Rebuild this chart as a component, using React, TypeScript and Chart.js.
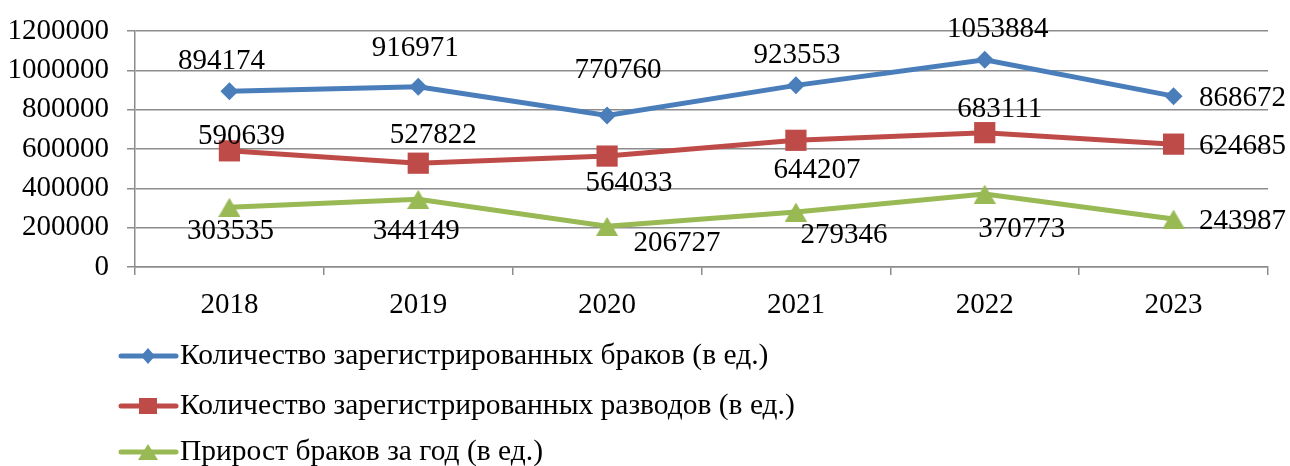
import React, { useEffect, useRef } from "react";
import { Chart, registerables } from "chart.js";

Chart.register(...registerables);

// ---- data ----
const years = ["2018", "2019", "2020", "2021", "2022", "2023"];
const marriages = [894174, 916971, 770760, 923553, 1053884, 868672];
const divorces = [590639, 527822, 564033, 644207, 683111, 624685];
const growth = [303535, 344149, 206727, 279346, 370773, 243987];
const seriesNames = [
  "Количество зарегистрированных браков (в ед.)",
  "Количество зарегистрированных разводов (в ед.)",
  "Прирост браков за год (в ед.)",
];
const yMin = 0;
const yMax = 1200000;
const yStep = 200000;

// ---- styles ----
const FONT = '"Liberation Serif", "Times New Roman", serif';
const FONT_SIZE = 29;
const LEGEND_FONT_SIZE = 29.5;
const colors = ["#4A7EBB", "#BE4B48", "#98B954"];
const GRID = "#8c8c8c";
const LABEL_SHIFT_Y = 2;

// label placement offsets (px) relative to each point
const labelOffsets = [
  [[-8, -32], [-3, -40], [11, -47], [1, -32], [13, -32], [69, 0]],
  [[12, -16], [15, -30], [22, 25], [21, 28], [15, -25], [69, 0]],
  [[1, 22], [-2, 30], [70, 15], [48, 21], [37, 33], [69, 0]],
];

function makeTriangle(color: string, w: number, h: number) {
  const c = document.createElement("canvas");
  c.width = w;
  c.height = h;
  const g = c.getContext("2d")!;
  g.fillStyle = color;
  g.beginPath();
  g.moveTo(w / 2, 0);
  g.lineTo(w, h);
  g.lineTo(0, h);
  g.closePath();
  g.fill();
  return c;
}

const labelPlugin = {
  id: "pointValueLabels",
  afterDatasetsDraw(chart: any) {
    const ctx = chart.ctx;
    ctx.save();
    ctx.font = `${FONT_SIZE}px ${FONT}`;
    ctx.fillStyle = "#000";
    ctx.textAlign = "center";
    ctx.textBaseline = "middle";
    chart.data.datasets.forEach((ds: any, di: number) => {
      const meta = chart.getDatasetMeta(di);
      meta.data.forEach((pt: any, i: number) => {
        const [dx, dy] = labelOffsets[di][i];
        ctx.fillText(String(ds.data[i]), pt.x + dx, pt.y + dy + LABEL_SHIFT_Y);
      });
    });
    ctx.restore();
  },
};

const legendPlugin = {
  id: "verticalLegend",
  afterDraw(chart: any) {
    const ctx = chart.ctx;
    const rows = [356, 406, 452];
    const x0 = 121;
    const x1 = 176;
    const mx = 148;
    ctx.save();
    chart.data.datasets.forEach((ds: any, i: number) => {
      const y = rows[i];
      const col = colors[i];
      ctx.strokeStyle = col;
      ctx.lineWidth = 5;
      ctx.lineCap = "round";
      ctx.beginPath();
      ctx.moveTo(x0, y);
      ctx.lineTo(x1, y);
      ctx.stroke();
      ctx.fillStyle = col;
      ctx.beginPath();
      if (i === 0) {
        ctx.moveTo(mx, y - 8);
        ctx.lineTo(mx + 7, y);
        ctx.lineTo(mx, y + 8);
        ctx.lineTo(mx - 7, y);
        ctx.closePath();
      } else if (i === 1) {
        ctx.rect(mx - 9, y - 8, 18, 16);
      } else {
        ctx.moveTo(mx, y - 8);
        ctx.lineTo(mx + 10, y + 8);
        ctx.lineTo(mx - 10, y + 8);
        ctx.closePath();
      }
      ctx.fill();
      ctx.fillStyle = "#000";
      ctx.font = `${LEGEND_FONT_SIZE}px ${FONT}`;
      ctx.textAlign = "left";
      ctx.textBaseline = "middle";
      ctx.fillText(seriesNames[i], 180, y);
    });
    ctx.restore();
  },
};

export default function App() {
  const ref = useRef<HTMLCanvasElement>(null);

  useEffect(() => {
    if (!ref.current) return;
    const tri = makeTriangle(colors[2], 22, 19);
    const chart = new Chart(ref.current, {
      type: "line",
      data: {
        labels: years,
        datasets: [
          {
            label: seriesNames[0],
            data: marriages,
            borderColor: colors[0],
            backgroundColor: colors[0],
            borderWidth: 5,
            pointStyle: "rectRot",
            pointRadius: 9,
            pointHoverRadius: 9,
            pointBorderWidth: 0,
            tension: 0,
          },
          {
            label: seriesNames[1],
            data: divorces,
            borderColor: colors[1],
            backgroundColor: colors[1],
            borderWidth: 5,
            pointStyle: "rect",
            pointRadius: 15,
            pointHoverRadius: 15,
            pointBorderWidth: 0,
            tension: 0,
          },
          {
            label: seriesNames[2],
            data: growth,
            borderColor: colors[2],
            backgroundColor: colors[2],
            borderWidth: 5,
            pointStyle: tri as any,
            pointRadius: 12,
            pointHoverRadius: 12,
            pointBorderWidth: 0,
            tension: 0,
          },
        ],
      },
      options: {
        animation: false,
        responsive: true,
        maintainAspectRatio: false,
        events: [],
        layout: { autoPadding: false, padding: { top: 31, right: 22, left: 0, bottom: 0 } },
        plugins: {
          legend: { display: false },
          tooltip: { enabled: false },
          title: { display: false },
        },
        scales: {
          x: {
            offset: true,
            grid: {
              offset: true,
              drawOnChartArea: false,
              drawTicks: true,
              tickLength: 8,
              color: GRID,
              lineWidth: 1.5,
            },
            border: { color: GRID, width: 1.5 },
            ticks: {
              color: "#000",
              font: { family: FONT, size: FONT_SIZE },
              padding: 13,
              maxRotation: 0,
            },
            afterFit: (s: any) => {
              s.height = 466 - 267;
            },
          },
          y: {
            min: yMin,
            max: yMax,
            ticks: {
              stepSize: yStep,
              color: "#000",
              font: { family: FONT, size: FONT_SIZE },
              padding: 18,
              callback: (v: any) => String(v),
            },
            grid: {
              color: GRID,
              lineWidth: 1.5,
              tickLength: 8,
            },
            border: { color: GRID, width: 1.5 },
            afterFit: (s: any) => {
              s.width = 135;
              s.paddingTop = 0;
              s.paddingBottom = 0;
            },
          },
        },
      },
      plugins: [labelPlugin, legendPlugin],
    });
    return () => chart.destroy();
  }, []);

  return (
    <div style={{ position: "fixed", left: 0, top: 0, width: 1290, height: 466, background: "#fff" }}>
      <canvas ref={ref} />
    </div>
  );
}
